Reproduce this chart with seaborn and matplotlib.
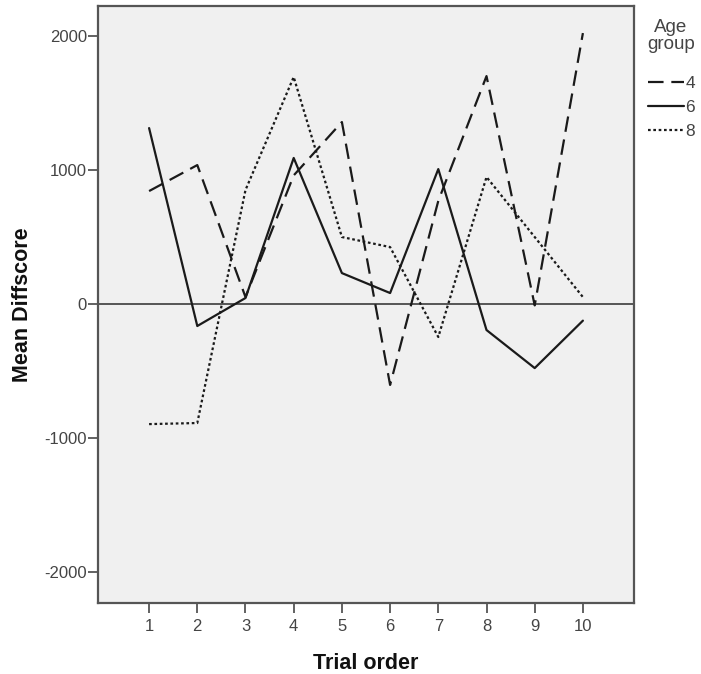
import matplotlib
matplotlib.use("Agg")
import matplotlib.pyplot as plt
import seaborn as sns
import pandas as pd

trials = [1, 2, 3, 4, 5, 6, 7, 8, 9, 10]
age_4 = [843, 1037, 52, 960, 1358, -604, 770, 1701, -10, 2022]
age_6 = [1313, -164, 45, 1090, 231, 82, 1007, -194, -478, -124]
age_8 = [-896, -888, 851, 1694, 500, 425, -246, 948, 500, 52]
groups = ["4", "6", "8"]

df = pd.DataFrame({
    "Trial order": trials * 3,
    "Mean Diffscore": age_4 + age_6 + age_8,
    "Age group": [g for g in groups for _ in trials],
})

sns.set_theme(style="white")
plt.rcParams["font.family"] = ["Liberation Sans", "DejaVu Sans"]
plt.rcParams["axes.unicode_minus"] = False

fig = plt.figure(figsize=(7.01, 6.74), dpi=100)
ax = fig.add_axes([98 / 701, 1 - 603 / 674, (634 - 98) / 701, (603 - 6) / 674])
ax.set_facecolor("#f0f0f0")

dash_styles = {"4": (7, 3.5), "6": "", "8": (1.2, 1.2)}
sns.lineplot(data=df, x="Trial order", y="Mean Diffscore", style="Age group",
             dashes=dash_styles, color="#1a1a1a", linewidth=1.6,
             legend=True, ax=ax, sort=False)

ax.axhline(0, color="#555555", linewidth=1.4, zorder=1)

ax.set_xlim(-0.06, 11.06)
ax.set_ylim(-2231, 2224)
ax.set_xticks(trials)
ax.set_xticklabels([str(t) for t in trials])
ax.set_yticks([-2000, -1000, 0, 1000, 2000])
ax.tick_params(axis="both", which="major", direction="out", length=7.5, width=1.3,
               color="#555555", labelcolor="#444444", labelsize=12,
               left=True, bottom=True)
ax.tick_params(axis="y", pad=0.5)
ax.tick_params(axis="x", pad=4)
for side in ["top", "right", "left", "bottom"]:
    ax.spines[side].set_color("#555555")
    ax.spines[side].set_linewidth(1.6)

ax.set_xlabel("Trial order", fontsize=15.5, fontweight="bold", labelpad=14,
              color="#111111")
ax.set_ylabel("Mean Diffscore", fontsize=15.5, fontweight="bold", labelpad=8,
              color="#111111")

# Legend title as a centered two-line block, entries below it
fig.text(671 / 701, 1 - 36 / 674, "Age\ngroup", ha="center", va="center",
         fontsize=13.5, color="#444444", linespacing=1.0)
handles, labels = ax.get_legend_handles_labels()
leg = ax.legend(handles, labels, loc="upper left",
                bbox_to_anchor=(648 / 701, 1 - 76 / 674),
                bbox_transform=fig.transFigure,
                frameon=False, fontsize=12.5,
                handlelength=2.1, handletextpad=0.05, labelspacing=0.5,
                borderaxespad=0.0, borderpad=0.0)
for t in leg.get_texts():
    t.set_color("#444444")
for h in leg.get_lines():
    h.set_linewidth(1.6)

fig.savefig("out.png", dpi=100)
